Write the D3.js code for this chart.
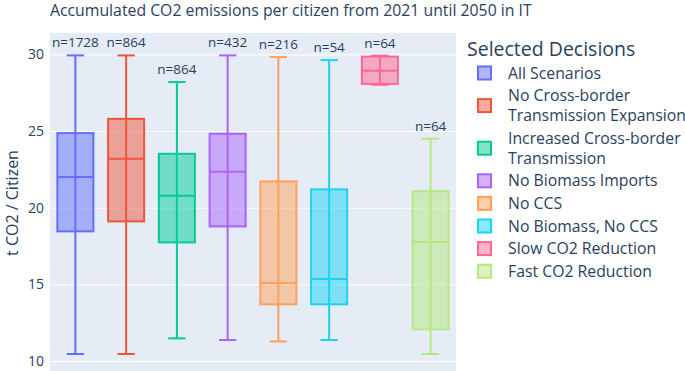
<!DOCTYPE html>
<html>
<head>
<meta charset="utf-8">
<script src="https://cdn.jsdelivr.net/npm/d3@7"></script>
<style>
  body { margin: 0; background: #fff; }
  text { font-family: "Open Sans", verdana, arial, sans-serif; fill: #2a3f5f; }
</style>
</head>
<body>
<div id="chart"></div>
<script>
// data
const categories = ["All Scenarios", "No Cross-border Transmission Expansion", "Increased Cross-border Transmission",
  "No Biomass Imports", "No CCS", "No Biomass, No CCS", "Slow CO2 Reduction", "Fast CO2 Reduction"];
const legendLines = [["All Scenarios"], ["No Cross-border", "Transmission Expansion"], ["Increased Cross-border", "Transmission"],
  ["No Biomass Imports"], ["No CCS"], ["No Biomass, No CCS"], ["Slow CO2 Reduction"], ["Fast CO2 Reduction"]];
const counts  = [1728, 864, 864, 432, 216, 54, 64, 64];
const mins    = [10.46, 10.46, 11.48, 11.37, 11.28, 11.37, 28.02, 10.46];
const q1s     = [18.46, 19.11, 17.74, 18.78, 13.70, 13.70, 28.08, 12.07];
const medians = [22.00, 23.20, 20.78, 22.35, 15.09, 15.35, 28.93, 17.76];
const q3s     = [24.87, 25.80, 23.52, 24.83, 21.72, 21.20, 29.86, 21.07];
const maxs    = [29.94, 29.94, 28.20, 29.94, 29.83, 29.63, 29.92, 24.50];
const yTicks  = [10, 15, 20, 25, 30];
const colors  = ["#636efa", "#EF553B", "#00cc96", "#ab63fa", "#FFA15A", "#19d3f3", "#FF6692", "#B6E880"];

const W = 685, H = 371;
const plot = {left: 50, right: 456, top: 33, bottom: 371};

const boxes = categories.map((c, i) => ({
  key: c, n: counts[i], min: mins[i], q1: q1s[i], median: medians[i], q3: q3s[i], max: maxs[i], color: colors[i]
}));

const svg = d3.select("#chart").append("svg")
  .attr("width", W).attr("height", H);

const x = d3.scaleBand().domain(categories).range([plot.left, plot.right]).padding(0);
const y = d3.scaleLinear().domain([9.35, 31.4]).range([plot.bottom, plot.top]);

// plot background
svg.append("rect")
  .attr("x", plot.left).attr("y", plot.top)
  .attr("width", plot.right - plot.left).attr("height", plot.bottom - plot.top)
  .attr("fill", "#E5ECF6");

// grid + tick labels
const yAxis = svg.append("g")
  .attr("transform", `translate(${plot.left},0)`)
  .call(d3.axisLeft(y).tickValues(yTicks).tickSize(-(plot.right - plot.left)).tickPadding(6));
yAxis.select(".domain").remove();
yAxis.selectAll(".tick line").attr("stroke", "#fff").attr("stroke-width", 1);
yAxis.selectAll(".tick text").style("font-size", "14px").attr("fill", "#2a3f5f");

const boxW = x.bandwidth() * 0.71;
const capW = boxW * 0.48;
const cx = d => x(d.key) + x.bandwidth() / 2;

const g = svg.append("g");

// whiskers
g.selectAll("vertLines").data(boxes).enter().append("line")
  .attr("x1", cx).attr("x2", cx)
  .attr("y1", d => y(d.min)).attr("y2", d => y(d.max))
  .attr("stroke", d => d.color).attr("stroke-width", 2);

// caps
["min", "max"].forEach(k => {
  g.selectAll("caps").data(boxes).enter().append("line")
    .attr("x1", d => cx(d) - capW / 2).attr("x2", d => cx(d) + capW / 2)
    .attr("y1", d => y(d[k])).attr("y2", d => y(d[k]))
    .attr("stroke", d => d.color).attr("stroke-width", 2);
});

// boxes
g.selectAll("boxes").data(boxes).enter().append("rect")
  .attr("x", d => cx(d) - boxW / 2)
  .attr("width", boxW)
  .attr("y", d => y(d.q3))
  .attr("height", d => y(d.q1) - y(d.q3))
  .attr("fill", d => d.color).attr("fill-opacity", 0.5)
  .attr("stroke", d => d.color).attr("stroke-width", 2);

// medians
g.selectAll("medianLines").data(boxes).enter().append("line")
  .attr("x1", d => cx(d) - boxW / 2).attr("x2", d => cx(d) + boxW / 2)
  .attr("y1", d => y(d.median)).attr("y2", d => y(d.median))
  .attr("stroke", d => d.color).attr("stroke-width", 2);

// n= labels
g.selectAll("nLabels").data(boxes).enter().append("text")
  .attr("x", cx).attr("y", d => y(d.max) - 8)
  .attr("text-anchor", "middle")
  .style("font-size", "13.5px")
  .text(d => "n=" + d.n);

// title
svg.append("text")
  .attr("x", 50).attr("y", 16)
  .style("font-size", "15.8px")
  .text("Accumulated CO2 emissions per citizen from 2021 until 2050 in IT");

// y axis title
svg.append("text")
  .attr("transform", `translate(18,${(plot.top + 371) / 2 + 1}) rotate(-90)`)
  .attr("text-anchor", "middle")
  .style("font-size", "16px")
  .text("t CO2 / Citizen");

// legend
const legend = svg.append("g").attr("transform", "translate(467,0)");
legend.append("text").attr("x", 0).attr("y", 56)
  .style("font-size", "19.5px")
  .text("Selected Decisions");

const lineH = 20, itemGap = 2.6;
let cy = 73;
legendLines.forEach((lines, i) => {
  const first = cy;
  const item = legend.append("g");
  lines.forEach((t, j) => {
    item.append("text").attr("x", 41).attr("y", cy + j * lineH + 5.5)
      .style("font-size", "15.8px").text(t);
  });
  const mid = first + (lines.length - 1) * lineH / 2;
  item.append("rect")
    .attr("x", 11).attr("y", mid - 6.5).attr("width", 13).attr("height", 13)
    .attr("fill", colors[i]).attr("fill-opacity", 0.5)
    .attr("stroke", colors[i]).attr("stroke-width", 2);
  cy += lines.length * lineH + itemGap;
});
</script>
</body>
</html>
